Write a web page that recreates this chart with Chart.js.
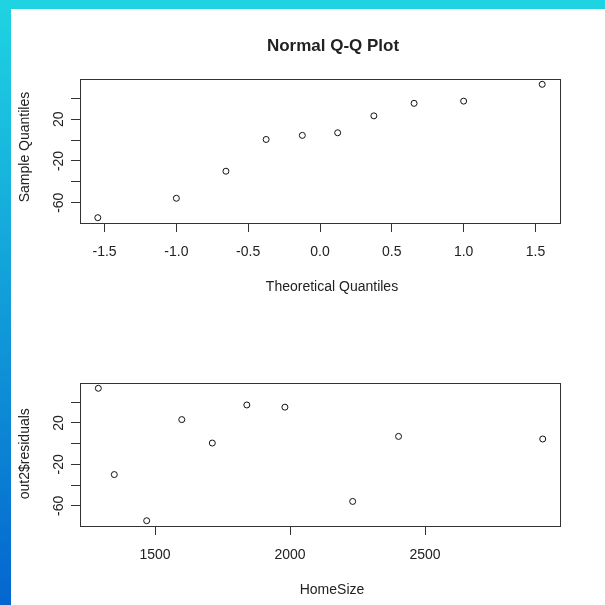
<!DOCTYPE html>
<html>
<head>
<meta charset="utf-8">
<script src="https://cdn.jsdelivr.net/npm/chart.js@4.4.1/dist/chart.umd.min.js"></script>
<style>
  html, body { margin: 0; padding: 0; }
  body {
    width: 605px; height: 605px; overflow: hidden; position: relative;
    background: linear-gradient(to bottom, #1fd4e2, #0466cf);
  }
  #paper { position: absolute; left: 11px; top: 9px; right: 0; bottom: 0; background: #fff; }
  canvas { position: absolute; left: 0; }
  #qqChart { top: 0; }
  #resChart { top: 303px; }
</style>
</head>
<body>
<div id="paper"></div>
<canvas id="qqChart" width="605" height="303"></canvas>
<canvas id="resChart" width="605" height="302"></canvas>
<script>
// Normal Q-Q plot of the residuals
const theoreticalQ = [-1.547, -1.000, -0.655, -0.375, -0.123, 0.123, 0.375, 0.655, 1.000, 1.547];
const sampleQ = [-74.3, -55.7, -29.8, 0.6, 4.5, 7.0, 23.2, 35.2, 37.3, 53.4];

// residuals against HomeSize
const homeSize = [1290, 1349, 1469, 1599, 1712, 1840, 1981, 2232, 2402, 2936];
const residuals = [53.4, -29.8, -74.3, 23.2, 0.6, 37.3, 35.2, -55.7, 7.0, 4.5];

// axis ticks
const qqXTicks = [-1.5, -1.0, -0.5, 0.0, 0.5, 1.0, 1.5];
const sizeXTicks = [1500, 2000, 2500];
const yTicks = [-60, -40, -20, 0, 20, 40];
const yTickShown = [-60, -20, 20];   // R drops the labels that would overlap

const FONT = "'Liberation Sans', Arial, sans-serif";
const INK = '#222';

// draws the plot box and the R style titles
function rFrame(texts) {
    return {
        id: 'rFrame',
        beforeDatasetsDraw(chart) {
            const { ctx, chartArea: a } = chart;
            ctx.save();
            ctx.strokeStyle = '#333';
            ctx.lineWidth = 1;
            const l = Math.round(a.left) + 0.5, t = Math.round(a.top) + 0.5;
            ctx.strokeRect(l, t, Math.round(a.right) - Math.round(a.left), Math.round(a.bottom) - Math.round(a.top));
            ctx.restore();
        },
        afterDraw(chart) {
            const ctx = chart.ctx;
            texts.forEach(t => {
                ctx.save();
                ctx.translate(t.x, t.y);
                if (t.vertical) ctx.rotate(-Math.PI / 2);
                ctx.font = (t.bold ? 'bold ' : '') + t.size + 'px ' + FONT;
                ctx.fillStyle = INK;
                ctx.textAlign = 'center';
                ctx.textBaseline = 'alphabetic';
                ctx.fillText(t.text, 0, 0);
                ctx.restore();
            });
        }
    };
}

function rOptions(cfg) {
    const tickGrid = {
        display: true, drawOnChartArea: false, drawTicks: true,
        tickLength: 9, tickColor: '#333', color: '#333', lineWidth: 1
    };
    return {
        responsive: false,
        animation: false,
        layout: { padding: { top: cfg.top, right: 45, left: 0, bottom: 0 } },
        plugins: { legend: { display: false }, tooltip: { enabled: false } },
        scales: {
            x: {
                type: 'linear',
                min: cfg.xMin, max: cfg.xMax,
                afterBuildTicks: s => { s.ticks = cfg.xTicks.map(v => ({ value: v })); },
                afterFit: s => { s.height = cfg.xHeight; },
                grid: tickGrid,
                border: { display: false },
                ticks: {
                    autoSkip: false, maxRotation: 0, padding: 12,
                    color: INK, font: { family: FONT, size: 14 },
                    callback: cfg.xFormat
                }
            },
            y: {
                type: 'linear',
                min: -79.4, max: 58.5,
                afterBuildTicks: s => { s.ticks = yTicks.map(v => ({ value: v })); },
                afterFit: s => { s.width = 80; },
                grid: tickGrid,
                border: { display: false },
                ticks: {
                    autoSkip: false, minRotation: 90, maxRotation: 90,
                    crossAlign: 'center', padding: 2,
                    color: INK, font: { family: FONT, size: 14 },
                    callback: v => yTickShown.includes(v) ? String(v) : ''
                }
            }
        }
    };
}

const pointStyle = {
    pointRadius: 3, pointStyle: 'circle',
    pointBackgroundColor: 'rgba(0,0,0,0)', pointBorderColor: '#111', pointBorderWidth: 1,
    showLine: false
};

new Chart(document.getElementById('qqChart'), {
    type: 'scatter',
    data: {
        datasets: [{
            label: 'Sample Quantiles',
            data: theoreticalQ.map((q, i) => ({ x: q, y: sampleQ[i] })),
            ...pointStyle
        }]
    },
    options: rOptions({
        top: 79, xHeight: 80,
        xMin: -1.671, xMax: 1.671, xTicks: qqXTicks,
        xFormat: v => v.toFixed(1)
    }),
    plugins: [rFrame([
        { text: 'Normal Q-Q Plot', x: 333, y: 50.7, size: 17, bold: true },
        { text: 'Theoretical Quantiles', x: 332, y: 290.7, size: 14 },
        { text: 'Sample Quantiles', x: 28.5, y: 147, size: 14, vertical: true }
    ])]
});

new Chart(document.getElementById('resChart'), {
    type: 'scatter',
    data: {
        datasets: [{
            label: 'out2$residuals',
            data: homeSize.map((h, i) => ({ x: h, y: residuals[i] })),
            ...pointStyle
        }]
    },
    options: rOptions({
        top: 80, xHeight: 79,
        xMin: 1222, xMax: 3000, xTicks: sizeXTicks,
        xFormat: v => String(v)
    }),
    plugins: [rFrame([
        { text: 'HomeSize', x: 332, y: 290.5, size: 14 },
        { text: 'out2$residuals', x: 28.5, y: 150.7, size: 14, vertical: true }
    ])]
});
</script>
</body>
</html>
